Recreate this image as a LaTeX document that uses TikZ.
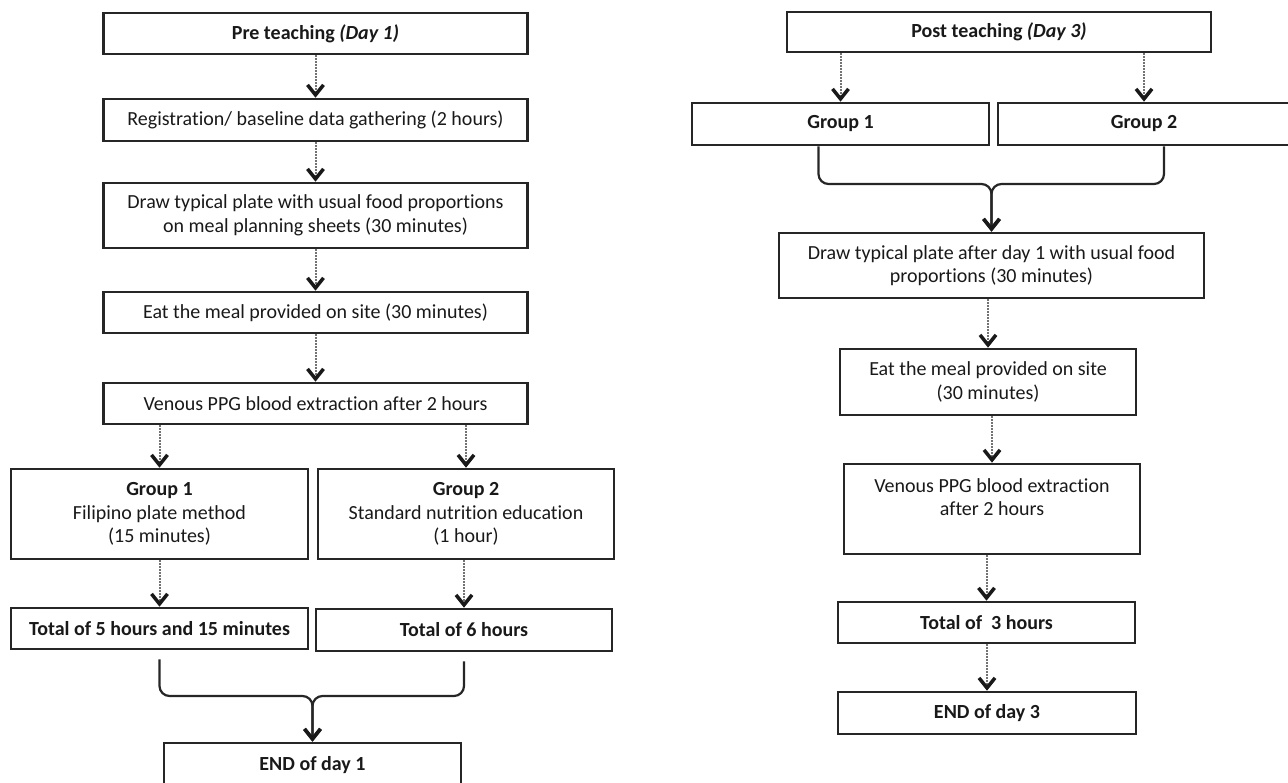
\documentclass[tikz,border=0pt]{standalone}
\usepackage{fontspec}
\setmainfont{Carlito}[Ligatures={NoCommon,NoRequired,NoContextual}]
\usetikzlibrary{arrows.meta}

\begin{document}
\begin{tikzpicture}[x=1pt,y=-1pt]
		\tikzstyle{box}=[draw=black!85, line width=2.6pt, align=center, inner sep=2pt, text=black!90, font=\fontsize{20}{23.5}\selectfont]
		\tikzstyle{flow}=[draw=black!55, densely dotted, line width=2pt, -{Straight Barb[length=10pt,width=16pt,line width=3.5pt,color=black!90]}]
		\tikzstyle{merge}=[draw=black!85, line width=2.2pt, rounded corners=10pt, -{Straight Barb[length=10pt,width=16pt,line width=3.5pt,color=black!90]}]
		
		\useasboundingbox (0,0) rectangle (1288,783);
		
		% day 1
		\node (A) at (315.5,33.5) [box, minimum width=424pt, minimum height=41pt] {\textbf{Pre teaching \textit{(Day 1)}}};
		\node (B) at (315.5,120) [box, minimum width=424pt, minimum height=42pt] {Registration/ baseline data gathering (2 hours)};
		\node (C) at (315.5,215.5) [box, minimum width=424pt, minimum height=65pt] {Draw typical plate with usual food proportions\\on meal planning sheets (30 minutes)};
		\node (D) at (315.5,312.5) [box, minimum width=424pt, minimum height=41pt] {Eat the meal provided on site (30 minutes)};
		\node (E) at (315.5,403.5) [box, minimum width=424pt, minimum height=41pt] {Venous PPG blood extraction after 2 hours};
		\node (F1) at (159.5,514) [box, minimum width=297pt, minimum height=90pt] {\textbf{Group 1}\\Filipino plate method\\(15 minutes)};
		\node (F2) at (466,514) [box, minimum width=296pt, minimum height=90pt] {\textbf{Group 2}\\Standard nutrition education\\(1 hour)};
		\node (T1) at (159.5,628.5) [box, minimum width=297pt, minimum height=41pt] {\textbf{Total of 5 hours and 15 minutes}};
		\node (T2) at (464,630) [box, minimum width=296pt, minimum height=42pt] {\textbf{Total of 6 hours}};
		\node (G) at (312.5,765) [box, minimum width=297pt, minimum height=44pt] {\textbf{END of day 1}};
		\coordinate (J) at (312.5,696);
		
		\draw[flow] (A) -- (B);
		\draw[flow] (B) -- (C);
		\draw[flow] (C) -- (D);
		\draw[flow] (D) -- (E);
		\draw[flow] (E.south -| F1.north) -- (F1.north);
		\draw[flow] (E.south -| F2.north) -- (F2.north);
		\draw[flow] (F1) -- (T1);
		\draw[flow] (F2.south -| T2.north) -- (T2.north);
		\draw[merge] ([yshift=-9pt]T1.south) |- (J) -- (G.north);
		\draw[merge] ([yshift=-9pt]T2.south) |- (J) -- (G.north);
		
		% day 3
		\node (P) at (999,32) [box, minimum width=424pt, minimum height=40pt] {\textbf{Post teaching \textit{(Day 3)}}};
		\node (Q1) at (840.5,124) [box, minimum width=297pt, minimum height=42pt] {\textbf{Group 1}};
		\node (Q2) at (1144,124) [box, minimum width=292pt, minimum height=42pt] {\textbf{Group 2}};
		\node (R) at (991.5,265.5) [box, minimum width=425pt, minimum height=65pt] {Draw typical plate after day 1 with usual food\\proportions (30 minutes)};
		\node (S) at (988,382) [box, minimum width=296pt, minimum height=66pt] {Eat the meal provided on site\\(30 minutes)};
		\node (U) at (992,509) [box, minimum width=296pt, minimum height=90pt] {Venous PPG blood extraction\\after 2 hours\\\mbox{}};
		\node (V) at (986.5,622.5) [box, minimum width=297pt, minimum height=41pt] {\textbf{Total of~ 3 hours}};
		\node (W) at (987,713) [box, minimum width=298pt, minimum height=42pt] {\textbf{END of day 3}};
		\coordinate (K) at (991.5,184);
		
		\draw[flow] (P.south -| Q1.north) -- (Q1.north);
		\draw[flow] (P.south -| Q2.north) -- (Q2.north);
		\draw[merge] ([xshift=-22pt]Q1.south) |- (K) -- (R.north);
		\draw[merge] ([xshift=20pt]Q2.south) |- (K) -- (R.north);
		\draw[flow] (R.south -| S.north) -- (S.north);
		\draw[flow] (S.south -| U.north) -- (U.north);
		\draw[flow] (U.south -| V.north) -- (V.north);
		\draw[flow] (V.south -| W.north) -- (W.north);
		
\end{tikzpicture}
\end{document}
